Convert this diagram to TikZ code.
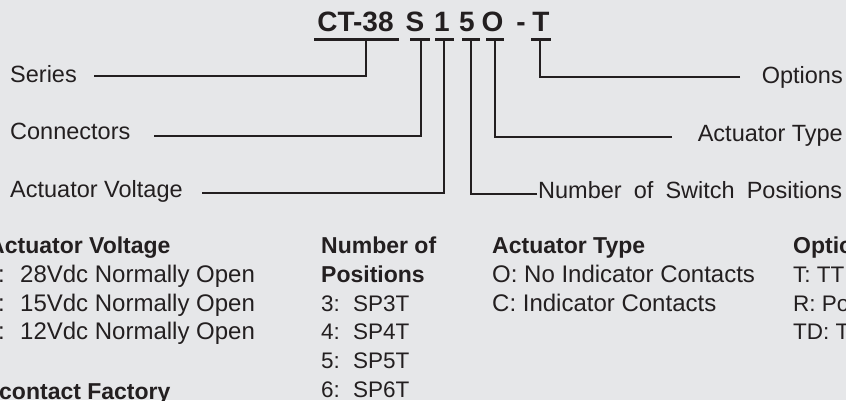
\documentclass[tikz,border=0pt]{standalone}
\usepackage{fontspec}
\setmainfont{Liberation Sans}
\definecolor{bg}{HTML}{E6E7E9}
\definecolor{ink}{HTML}{231F20}
\tikzset{
  lbl/.style={font=\fontsize{23.5}{27}\selectfont, text=ink, inner sep=0pt, anchor=base west},
  rlbl/.style={lbl, anchor=base east},
  codech/.style={font=\fontsize{28}{32}\selectfont\bfseries, text=ink, inner sep=0pt, anchor=base},
  body/.style={font=\fontsize{22.5}{27}\selectfont, text=ink, inner sep=0pt, anchor=base west},
  bodyw/.style={body, font=\fontsize{24}{27}\selectfont},
  head/.style={font=\fontsize{23}{27}\selectfont\bfseries, text=ink, inner sep=0pt, anchor=base west},
  wire/.style={line width=2.2pt, draw=ink, line join=miter}
}
\begin{document}
\begin{tikzpicture}[x=1pt,y=-1pt]
\useasboundingbox (0,0) rectangle (846,400);
\fill[bg] (0,0) rectangle (846,400);
\clip (0,0) rectangle (846,400);

% code characters
\node[codech] (kCT) at (355.5,31.5) {CT-38};
\node[codech] (kS) at (415,31.5) {S};
\node[codech] (k1) at (442,31.5) {1};
\node[codech] (k5) at (467,31.5) {5};
\node[codech] (kO) at (492.5,31.5) {O};
\node[codech] (kDash) at (521,31.5) {-};
\node[codech] (kT) at (541,31.5) {T};

% underline bars
\coordinate (bCTl) at (314,39.5); \coordinate (bCTr) at (399,39.5);
\coordinate (bSl) at (410,39.5);  \coordinate (bSr) at (430,39.5);
\coordinate (b1l) at (435,39.5);  \coordinate (b1r) at (454,39.5);
\coordinate (b5l) at (462,39.5);  \coordinate (b5r) at (480,39.5);
\coordinate (bOl) at (486,39.5);  \coordinate (bOr) at (504,39.5);
\coordinate (bTl) at (531,39.5);  \coordinate (bTr) at (551,39.5);
\foreach \b in {CT,S,1,5,O,T} {\draw[wire] (b\b l) -- (b\b r);}

% junctions
\coordinate (jCT) at (366,39.5);
\coordinate (jS) at (421,39.5);
\coordinate (j1) at (444,39.5);
\coordinate (j5) at (471,39.5);
\coordinate (jO) at (495,39.5);
\coordinate (jT) at (540,39.5);

% labels
\node[lbl] (lSeries) at (10,82) {Series};
\node[lbl] (lConn) at (10,139) {Connectors};
\node[lbl] (lVolt) at (10,197) {Actuator Voltage};
\node[rlbl] (lOpt) at (843,83) {Options};
\node[rlbl] (lType) at (843,141) {Actuator Type};
\node[lbl] (lNum) at (538,198) {\makebox[304pt][s]{Number of Switch Positions}};

% leader starts
\coordinate (aSeries) at (94,76);
\coordinate (aConn) at (154,136);
\coordinate (aVolt) at (202,193);
\coordinate (aOpt) at (740,77);
\coordinate (aType) at (672,137);
\coordinate (aNum) at (537,194);

\draw[wire] (aSeries) -| (jCT);
\draw[wire] (aConn) -| (jS);
\draw[wire] (aVolt) -| (j1);
\draw[wire] (aNum) -| (j5);
\draw[wire] (aType) -| (jO);
\draw[wire] (aOpt) -| (jT);

% column: actuator voltage
\node[head] (hVolt) at (-12,253) {Actuator Voltage};
\node[bodyw] (v1c) at (-2,282) {:};
\node[bodyw] (v1) at (20,282) {28Vdc Normally Open};
\node[bodyw] (v2c) at (-2,311) {:};
\node[bodyw] (v2) at (20,311) {15Vdc Normally Open};
\node[bodyw] (v3c) at (-2,339) {:};
\node[bodyw] (v3) at (20,339) {12Vdc Normally Open};
\node[head] (hFac) at (-1,399) {contact Factory};

% column: number of positions
\node[head] (hNum1) at (321,253) {Number of};
\node[head] (hNum2) at (321,282) {Positions};
\node[body] (p3) at (321,311) {\makebox[32pt][l]{3:}SP3T};
\node[body] (p4) at (321,339) {\makebox[32pt][l]{4:}SP4T};
\node[body] (p5) at (321,368) {\makebox[32pt][l]{5:}SP5T};
\node[body] (p6) at (321,397) {\makebox[32pt][l]{6:}SP6T};

% column: actuator type
\node[head] (hType) at (492,253) {Actuator Type};
\node[bodyw] (t1) at (492,282) {O: No Indicator Contacts};
\node[bodyw] (t2) at (492,311) {C: Indicator Contacts};

% column: options
\node[head] (hOpt) at (793,253) {Options};
\node[body] (o1) at (793,282) {T: TT};
\node[body] (o2) at (793,311) {R: Po};
\node[body] (o3) at (793,339) {TD: T};
\end{tikzpicture}
\end{document}
